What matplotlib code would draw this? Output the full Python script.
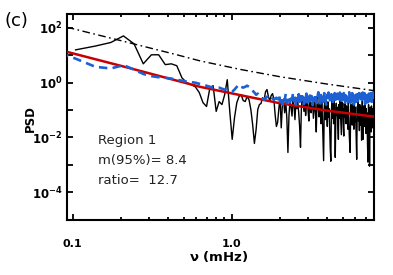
import numpy as np
import matplotlib
matplotlib.use('Agg')
import matplotlib.pyplot as plt
from matplotlib.ticker import FixedLocator, FixedFormatter, NullFormatter, NullLocator

# ---------------- data ----------------
DF = 1.0 / 28.8          # frequency bin width (mHz)

black_k0 = 3             # first frequency bin of the black spectrum
black_log = [
    1.20, 1.34, 1.47, 1.71, 1.42, 0.69, 1.02, 1.02, 0.66, 0.69,
    0.62, 0.18, 0.00, -0.07, -0.15, -0.36, -0.73, -0.87, -0.18, -0.11,
    -1.05, -0.69, -0.80, -0.44, 0.11, -1.05, -2.07, -1.27, -0.73, -0.51,
    -0.44, -0.65, -0.69, -0.51, -0.62, -0.98, -1.53, -2.22, -1.71, -0.98,
    -0.80, -0.76, -0.55, -0.65, -0.33, -0.25, -0.51, -0.65, -0.47, -0.40,
    -0.58, -1.16, -1.60,
    -1.45, -0.95, -0.55, -1.65, -0.80, -0.60, -1.10, -0.70, -1.30, -2.55,
    -1.20, -0.65, -0.90, -1.22, -0.50, -0.85, -1.35, -0.62, -0.95, -0.70,
    -1.10, -1.60, -2.36, -0.90, -0.55, -0.75, -1.05, -0.60, -1.20, -0.80,
    -0.50, -1.00, -1.40, -0.70, -0.58, -1.10, -0.85, -0.65, -1.30, -0.95,
    -0.60, -1.15, -1.80, -0.75, -0.55, -0.95, -1.25, -0.70, -1.05, -1.50,
    -0.65, -1.20, -2.10, -2.85, -0.90, -0.60, -1.35, -0.80, -1.00, -1.60,
    -0.70, -1.25, -0.95, -1.70, -2.40, -2.87, -1.05, -0.65, -1.30, -0.85,
    -1.50, -0.60, -1.10, -2.73, -1.40, -0.75, -1.20, -0.90, -1.60, -2.07,
    -0.80, -1.30, -0.65, -1.05, -1.45, -1.90, -0.70, -1.15, -0.95, -1.60,
    -1.95, -0.75, -1.25, -0.60, -1.10, -1.50, -0.85, -1.35, -1.05, -1.70,
    -0.70, -1.20, -1.90, -2.20, -2.55, -1.40, -0.80, -1.25, -0.95, -1.55,
    -0.75, -1.30, -1.05, -1.70, -0.65, -1.20, -1.45, -0.90, -1.60, -2.30,
    -2.80, -1.50, -0.85, -1.15, -0.70, -1.40, -1.05, -1.75, -0.80, -1.25,
    -1.55, -0.90, -1.30, -2.10, -1.00, -0.65, -1.45, -2.07, -1.20, -0.85,
    -1.35, -1.05, -1.60, -0.75, -1.25, -1.85, -0.95, -1.40, -1.10, -1.70,
    -2.30, -2.90, -1.30, -0.80, -1.50, -1.15, -3.05, -1.60, -0.90, -1.35,
    -1.10, -1.80, -0.85, -1.45, -1.20, -1.65, -0.95, -1.30, -1.50,
]

blue_k0 = 2              # first frequency bin of the blue spectrum
blue_log = [
    1.26, 0.88, 0.58, 0.52, 0.64, 0.48, 0.32, 0.24, 0.20, 0.18,
    0.15, 0.11, 0.07, 0.04, 0.02, 0.00, -0.04, -0.07, -0.11, -0.15,
    -0.18, -0.18, -0.18, -0.22, -0.25, -0.25, -0.29, -0.33, -0.25, -0.15,
    -0.07, -0.15, -0.18, -0.15, -0.11, -0.15, -0.22, -0.29, -0.36, -0.44,
    -0.40, -0.47, -0.51, -0.58, -0.62, -0.55, -0.51, -0.58, -0.55, -0.51,
    -0.58, -0.62, -0.58, -0.55,
    -0.60, -0.45, -0.70, -0.55, -0.80, -0.50, -0.65, -0.40, -0.75, -0.60,
    -0.50, -0.72, -0.45, -0.62, -0.38, -0.68, -0.55, -0.80, -0.48, -0.66,
    -0.42, -0.70, -0.58, -0.36, -0.64, -0.52, -0.78, -0.46, -0.60, -0.40,
    -0.72, -0.55, -0.45, -0.68, -0.38, -0.62, -0.50, -0.82, -0.56, -0.44,
    -0.66, -0.40, -0.58, -0.74, -0.48, -0.35, -0.64, -0.52, -0.76, -0.45,
    -0.60, -0.42, -0.70, -0.54, -0.38, -0.66, -0.50, -0.80, -0.58, -0.44,
    -0.68, -0.36, -0.62, -0.48, -0.74, -0.55, -0.42, -0.65, -0.50, -0.78,
    -0.46, -0.60, -0.38, -0.70, -0.54, -0.44, -0.66, -0.40, -0.58, -0.72,
    -0.48, -0.62, -0.36, -0.56, -0.75, -0.45, -0.60, -0.42, -0.68, -0.52,
    -0.38, -0.64, -0.50, -0.78, -0.46, -0.58, -0.40, -0.66, -0.54, -0.44,
    -0.70, -0.48, -0.35, -0.62, -0.56, -0.74, -0.42, -0.60, -0.50, -0.38,
    -0.66, -0.46, -0.58, -0.80, -0.44, -0.62, -0.40, -0.54, -0.70, -0.48,
    -0.36, -0.60, -0.52, -0.72, -0.45, -0.58, -0.38, -0.66, -0.50, -0.42,
    -0.64, -0.55, -0.40, -0.74, -0.48, -0.60, -0.36, -0.56, -0.68, -0.46,
    -0.52, -0.38, -0.62, -0.78, -0.44, -0.58, -0.40, -0.66, -0.50, -0.35,
    -0.60, -0.72, -0.46, -0.55, -0.40, -0.64, -0.52, -0.80, -0.45, -0.58,
    -0.38, -0.62, -0.50, -0.70, -0.44, -0.56, -0.36, -0.60, -0.48,
]

# fitted model (red) and 95% confidence level (dash-dot), log10 values
red_logf = [-1.038, -0.64, -0.20, 0.00, 0.302, 0.60, 0.895]
red_logp = [1.13, 0.53, -0.15, -0.39, -0.75, -1.02, -1.24]
conf_logf = [-1.038, -0.699, -0.358, -0.201, 0.05, 0.302, 0.60, 0.895]
conf_logp = [2.03, 1.54, 1.04, 0.80, 0.49, 0.22, -0.05, -0.29]

x_ticks = [0.1, 1.0]
x_ticklabels = ['0.1', '1.0']
y_exponents = [-5, -4, -3, -2, -1, 0, 1, 2]
y_labeled = [-4, -2, 0, 2]

annot_lines = ['Region 1', 'm(95%)= 8.4', 'ratio=  12.7']

# ---------------- plot ----------------
plt.rcParams['mathtext.fontset'] = 'dejavusans'
plt.rcParams['font.family'] = ['DejaVu Sans']

W, H = 393, 275
fig = plt.figure(figsize=(W / 100, H / 100), dpi=100)
ax = fig.add_axes([66.7 / W, 1 - 219.5 / H, (374 - 66.7) / W, (219.5 - 14.3) / H])

f_black = (np.arange(len(black_log)) + black_k0) * DF
f_blue = (np.arange(len(blue_log)) + blue_k0) * DF
p_black = 10 ** np.array(black_log)
p_blue = 10 ** np.array(blue_log)

ax.plot(f_black, p_black, color='black', lw=1.0, zorder=2)
ax.plot(10 ** np.array(conf_logf), 10 ** np.array(conf_logp), color='black',
        lw=1.0, dashes=(5.5, 2.5, 1.2, 2.5), zorder=2)
ax.plot(10 ** np.array(red_logf), 10 ** np.array(red_logp), color='#c80000',
        lw=1.8, zorder=3)
ax.plot(f_blue, p_blue, color='#1c60d4', lw=1.9, dashes=(3.2, 2.0), zorder=4)

ax.set_xscale('log')
ax.set_yscale('log')
ax.set_xlim(10 ** -1.038, 10 ** 0.895)
ax.set_ylim(1e-5, 10 ** 2.5)

ax.xaxis.set_major_locator(FixedLocator(x_ticks))
ax.xaxis.set_major_formatter(FixedFormatter(x_ticklabels))
ax.xaxis.set_minor_locator(FixedLocator([0.2, 0.3, 0.4, 0.5, 0.6, 0.7, 0.8, 0.9,
                                         2, 3, 4, 5, 6, 7]))
ax.xaxis.set_minor_formatter(NullFormatter())

ax.yaxis.set_major_locator(FixedLocator([10.0 ** e for e in y_exponents]))
ax.yaxis.set_major_formatter(FixedFormatter(
    [r'$\mathbf{10^{%d}}$' % e if e in y_labeled else '' for e in y_exponents]))
ax.yaxis.set_minor_locator(NullLocator())

for s in ax.spines.values():
    s.set_linewidth(1.5)

ax.tick_params(which='both', direction='in', top=True, right=True, width=1.3)
ax.tick_params(which='major', length=4)
ax.tick_params(which='minor', length=2.2)
ax.tick_params(axis='x', which='major', pad=14.0, labelsize=8)
ax.tick_params(axis='y', which='major', pad=2.8, labelsize=8.5)
for lab in ax.get_xticklabels():
    lab.set_fontweight('bold')

fig.text(219 / W, 1 - 257 / H, r'$\mathbf{\nu}$ (mHz)', ha='center', va='center',
         fontsize=9.5, fontweight='bold')
fig.text(30 / W, 1 - 119 / H, 'PSD', ha='center', va='center', rotation=90,
         fontsize=8.5, fontweight='bold')
fig.text(4 / W, 1 - 21 / H, '(c)', ha='left', va='center', fontsize=13)

for i, line in enumerate(annot_lines):
    ax.text(0.102, 0.368 - i * 0.0975, line, transform=ax.transAxes,
            ha='left', va='baseline', fontsize=9.5, color='#222222')

fig.savefig('out.png', dpi=100)
